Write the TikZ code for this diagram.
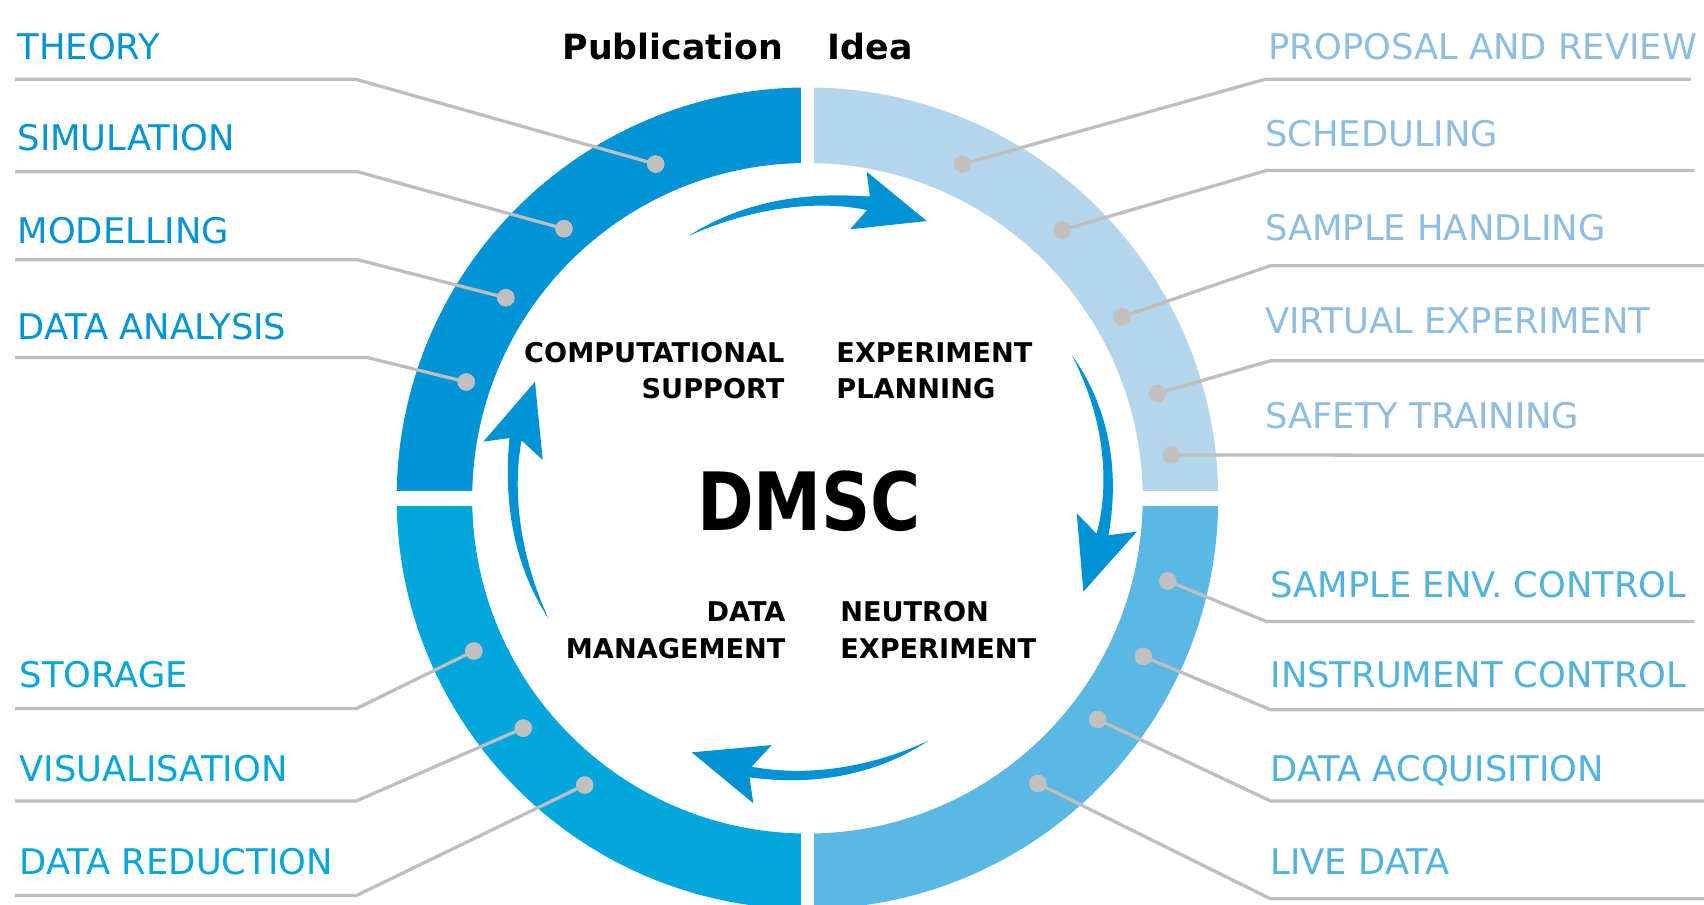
\documentclass[tikz,border=0pt]{standalone}
\usepackage{fontspec}
\setmainfont{DejaVu Sans}
\newfontfamily\dmscfont[FakeStretch=0.85]{DejaVu Sans Bold}
\definecolor{cTL}{RGB}{0,147,213}
\definecolor{cTR}{RGB}{180,213,236}
\definecolor{cBL}{RGB}{0,166,220}
\definecolor{cBR}{RGB}{91,184,228}
\definecolor{tTL}{RGB}{0,147,213}
\definecolor{tBL}{RGB}{0,166,220}
\definecolor{tTR}{RGB}{141,189,226}
\definecolor{tBR}{RGB}{80,178,223}
\definecolor{arrowc}{RGB}{0,146,213}
\definecolor{linegray}{RGB}{190,190,190}
\definecolor{dotgray}{RGB}{192,192,192}
\begin{document}
\begin{tikzpicture}[x=1pt,y=-1pt,
  lab/.style={anchor=base west, inner sep=0pt, font=\fontsize{32.5}{39}\selectfont},
  ctr/.style={inner sep=0pt, font=\bfseries\fontsize{25}{30}\selectfont},
  dotn/.style={circle, fill=dotgray, minimum size=16pt, inner sep=0pt},
  leader/.style={draw=linegray, line width=3pt, line join=round},
  arrowfill/.style={fill=arrowc}]
\useasboundingbox (0,0) rectangle (1568,832);
\fill[white] (0,0) rectangle (1568,832);

% ring (local frame: centre of ring, y up)
\begin{scope}[shift={(743,458.5)}, yscale=-1]
 \fill[cTL] (90:378) arc[start angle=90,end angle=180,radius=378] -- (180:308.5) arc[start angle=180,end angle=90,radius=308.5] -- cycle;
 \fill[cTR] (0:378) arc[start angle=0,end angle=90,radius=378] -- (90:308.5) arc[start angle=90,end angle=0,radius=308.5] -- cycle;
 \fill[cBL] (180:378) arc[start angle=180,end angle=270,radius=378] -- (270:308.5) arc[start angle=270,end angle=180,radius=308.5] -- cycle;
 \fill[cBR] (270:378) arc[start angle=270,end angle=360,radius=378] -- (0:308.5) arc[start angle=360,end angle=270,radius=308.5] -- cycle;
\end{scope}
\fill[white] (737,60) rectangle (749,850);
\fill[white] (350,452) rectangle (1140,465.5);

% cycle arrows (same local frame)
\begin{scope}[shift={(743,458.5)}, yscale=-1]
 % top arrow
 \fill[arrowfill]
   plot[domain=0:1,samples=50,variable=\t] ({114.4-36.1*\t}:{265+12.2*\t+0.5*(8.5*(1-(1-\t)^3)+4.2*\t^6)})
   -- (54.5,300.5) -- (109.8,255.1) -- (39.2,247.5)
   -- plot[domain=1:0,samples=50,variable=\t] ({114.4-36.1*\t}:{265+12.2*\t-0.5*(8.5*(1-(1-\t)^3)+4.2*\t^6)})
   -- cycle;
 % right arrow
 \fill[arrowfill]
   plot[domain=0:1,samples=50,variable=\t] ({28.45-35.45*\t}:{276.6-3*\t+13*\t*(1-\t)+0.5*(8.5*(1-(1-\t)^3)+2.6*\t^6)})
   -- (303,-30.8) -- (253.9,-86) -- (247.8,-13.9)
   -- plot[domain=1:0,samples=50,variable=\t] ({28.45-35.45*\t}:{276.6-3*\t+13*\t*(1-\t)-0.5*(8.5*(1-(1-\t)^3)+2.6*\t^6)})
   -- cycle;
 % bottom arrow
 \fill[arrowfill]
   plot[domain=0:1,samples=50,variable=\t] ({-63.5-38.25*\t}:{249.3+8*\t+0.5*(8.5*(1-(1-\t)^3)+1.5*\t^6)})
   -- (-49.8,-280.7) -- (-106.5,-233.8) -- (-32.9,-227.1)
   -- plot[domain=1:0,samples=50,variable=\t] ({-63.5-38.25*\t}:{249.3+8*\t-0.5*(8.5*(1-(1-\t)^3)+1.5*\t^6)})
   -- cycle;
 % left arrow
 \fill[arrowfill]
   plot[domain=0:1,samples=50,variable=\t] ({204.9-36.33*\t}:{262.8+11.3*\t+0.5*(8.5*(1-(1-\t)^3)+2.9*\t^6)})
   -- (-298.2,52.1) -- (-250.7,107.3) -- (-243.6,35.2)
   -- plot[domain=1:0,samples=50,variable=\t] ({204.9-36.33*\t}:{262.8+11.3*\t-0.5*(8.5*(1-(1-\t)^3)+2.9*\t^6)})
   -- cycle;
\end{scope}

% dots
\node[dotn] (d1) at (603.4,151) {};
\node[dotn] (d2) at (519,210.5) {};
\node[dotn] (d3) at (465.5,274) {};
\node[dotn] (d4) at (429,351.5) {};
\node[dotn] (d5) at (436,599) {};
\node[dotn] (d6) at (481.5,670) {};
\node[dotn] (d7) at (538,722.4) {};
\node[dotn] (d8) at (885.7,151) {};
\node[dotn] (d9) at (977.5,211.7) {};
\node[dotn] (d10) at (1032.5,291.5) {};
\node[dotn] (d11) at (1065,362) {};
\node[dotn] (d12) at (1077.7,418.7) {};
\node[dotn] (d13) at (1074.5,534.6) {};
\node[dotn] (d14) at (1052,604) {};
\node[dotn] (d15) at (1010,662) {};
\node[dotn] (d16) at (955,721) {};

% line ends
\coordinate (s1) at (14,73);   \coordinate (e1) at (327.5,73);
\coordinate (s2) at (14,158);  \coordinate (e2) at (329,158);
\coordinate (s3) at (14,239);  \coordinate (e3) at (329,239);
\coordinate (s4) at (14,329);  \coordinate (e4) at (338,329);
\coordinate (s5) at (14,652);  \coordinate (e5) at (328,652);
\coordinate (s6) at (14,737);  \coordinate (e6) at (328,737);
\coordinate (s7) at (14,824);  \coordinate (e7) at (328,824);
\coordinate (s8) at (1556,73);  \coordinate (e8) at (1164,73);
\coordinate (s9) at (1559,157); \coordinate (e9) at (1165,157);
\coordinate (s10) at (1568,244.5); \coordinate (e10) at (1169,244.5);
\coordinate (s11) at (1568,332); \coordinate (e11) at (1169,332);
\coordinate (s12) at (1568,419);
\coordinate (s13) at (1559,572); \coordinate (e13) at (1165.5,572);
\coordinate (s14) at (1568,653); \coordinate (e14) at (1169,653);
\coordinate (s15) at (1568,737); \coordinate (e15) at (1169,737);
\coordinate (s16) at (1568,827); \coordinate (e16) at (1169,827);

\foreach \i in {1,...,11,13,14,15,16} {\draw[leader] (d\i.center) -- (e\i) -- (s\i);}
\draw[leader] (d12.center) -- (s12);
\foreach \i in {1,...,16} {\fill[dotgray] (d\i) circle[radius=8];}

% labels
\node[lab, text=tTL] (l1) at (16,55) {THEORY};
\node[lab, text=tTL] (l2) at (16,138.7) {SIMULATION};
\node[lab, text=tTL] (l3) at (16,224) {MODELLING};
\node[lab, text=tTL] (l4) at (16,312) {DATA ANALYSIS};
\node[lab, text=tBL] (l5) at (18,633) {STORAGE};
\node[lab, text=tBL] (l6) at (18,719) {VISUALISATION};
\node[lab, text=tBL] (l7) at (18,805) {DATA REDUCTION};
\node[lab, text=tTR] (l8) at (1167,55) {PROPOSAL AND REVIEW};
\node[lab, text=tTR] (l9) at (1164,135) {SCHEDULING};
\node[lab, text=tTR] (l10) at (1164,221) {SAMPLE HANDLING};
\node[lab, text=tTR] (l11) at (1164,307) {VIRTUAL EXPERIMENT};
\node[lab, text=tTR] (l12) at (1164,394) {SAFETY TRAINING};
\node[lab, text=tBR] (l13) at (1169,550) {SAMPLE ENV. CONTROL};
\node[lab, text=tBR] (l14) at (1169,633) {INSTRUMENT CONTROL};
\node[lab, text=tBR] (l15) at (1169,719) {DATA ACQUISITION};
\node[lab, text=tBR] (l16) at (1169,805) {LIVE DATA};

% titles
\node[anchor=base west, inner sep=0pt, font=\bfseries\fontsize{32}{38}\selectfont] (pub) at (517.5,54.6) {Publication};
\node[anchor=base west, inner sep=0pt, font=\bfseries\fontsize{32}{38}\selectfont] (idea) at (761.7,54.6) {Idea};

% centre
\node[anchor=base, inner sep=0pt, font=\dmscfont\fontsize{74}{80}\selectfont] (dmsc) at (744.5,488) {DMSC};
\node[ctr, anchor=base east] (cs1) at (722,334) {COMPUTATIONAL};
\node[ctr, anchor=base east] (cs2) at (722,367) {SUPPORT};
\node[ctr, anchor=base west] (ep1) at (769.5,334) {EXPERIMENT};
\node[ctr, anchor=base west] (ep2) at (769.5,367) {PLANNING};
\node[ctr, anchor=base east] (dm1) at (723,572) {DATA};
\node[ctr, anchor=base east] (dm2) at (723,605.6) {MANAGEMENT};
\node[ctr, anchor=base west] (ne1) at (773,572) {NEUTRON};
\node[ctr, anchor=base west] (ne2) at (773,605.6) {EXPERIMENT};
\end{tikzpicture}
\end{document}
